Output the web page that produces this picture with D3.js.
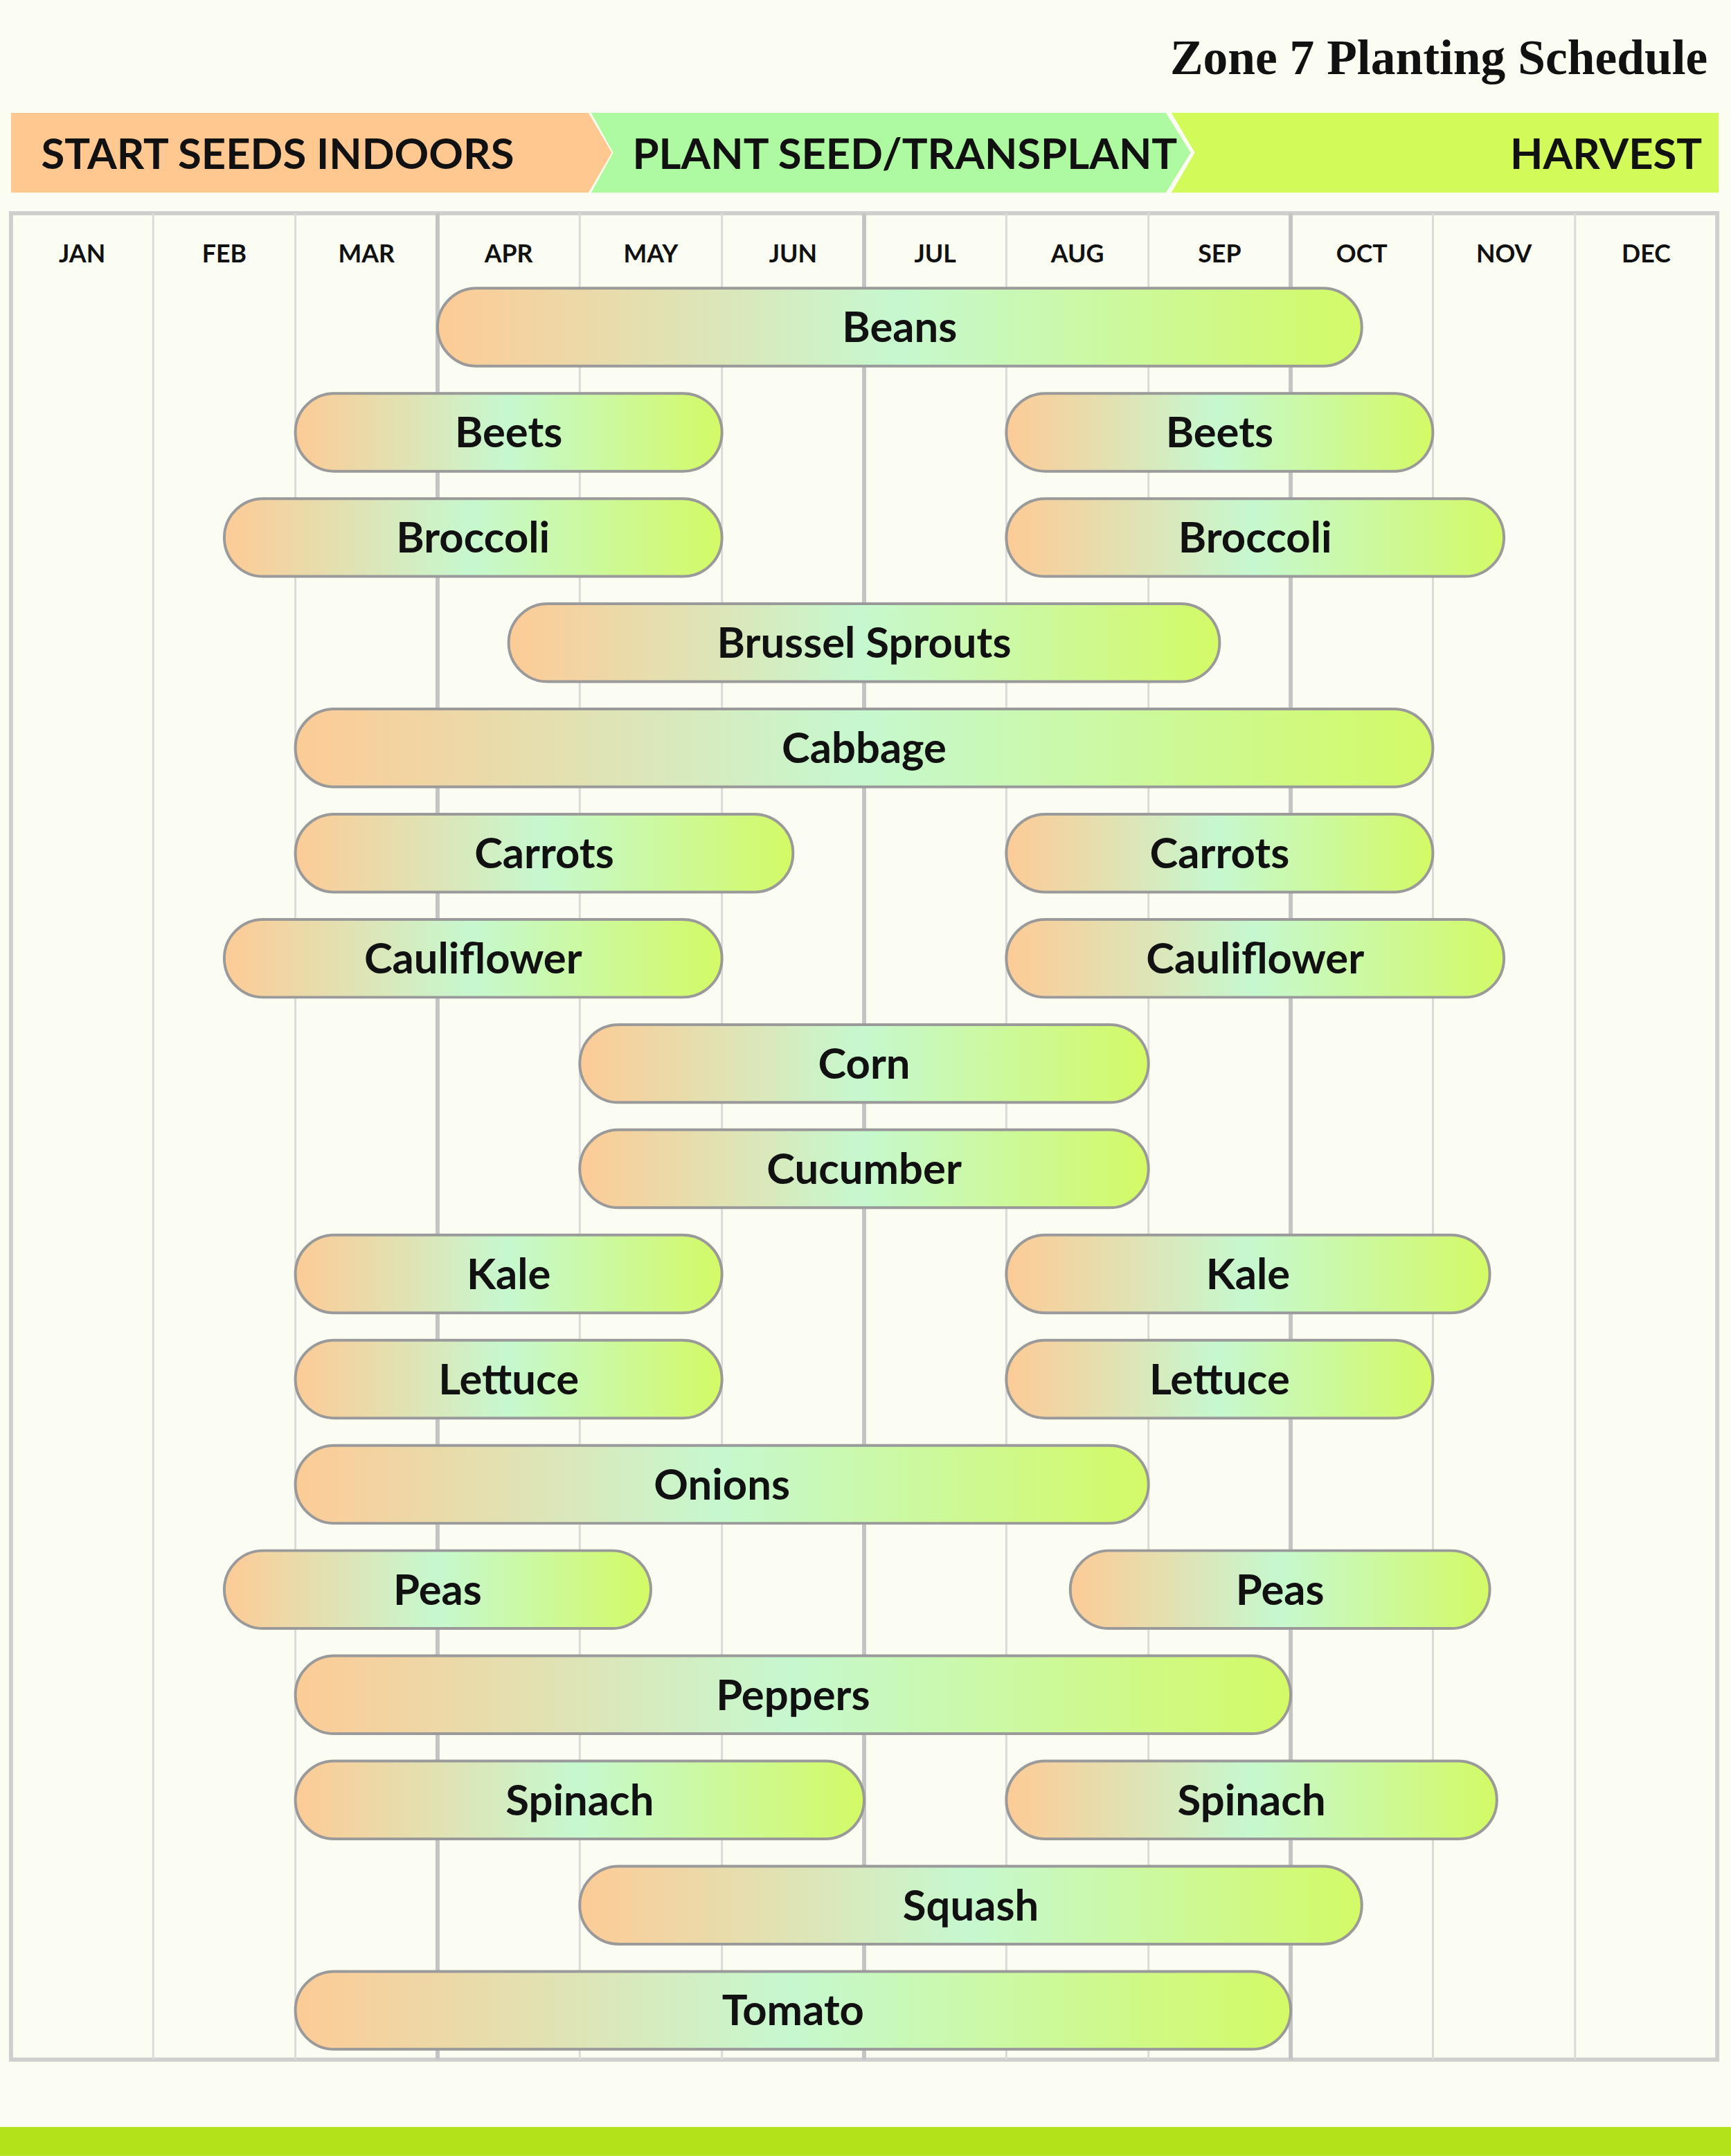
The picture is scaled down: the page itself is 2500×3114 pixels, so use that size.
<!DOCTYPE html>
<html><head><meta charset="utf-8">
<script src="https://cdn.jsdelivr.net/npm/d3@7"></script>
<style>body{margin:0;background:#fcfdf2}</style>
</head><body>
<script>
// months and crops
var months = ["JAN","FEB","MAR","APR","MAY","JUN","JUL","AUG","SEP","OCT","NOV","DEC"];
var crops = ["Beans","Beets","Broccoli","Brussel Sprouts","Cabbage","Carrots","Cauliflower","Corn","Cucumber","Kale","Lettuce","Onions","Peas","Peppers","Spinach","Squash","Tomato"];
// [start, end] in months from Jan 1, one or two periods per crop
var periods = [
  [[3,9.5]],
  [[2,5],[7,10]],
  [[1.5,5],[7,10.5]],
  [[3.5,8.5]],
  [[2,10]],
  [[2,5.5],[7,10]],
  [[1.5,5],[7,10.5]],
  [[4,8]],
  [[4,8]],
  [[2,5],[7,10.4]],
  [[2,5],[7,10]],
  [[2,8]],
  [[1.5,4.5],[7.45,10.4]],
  [[2,9]],
  [[2,6],[7,10.45]],
  [[4,9.5]],
  [[2,9]]
];
var phases = ["START SEEDS INDOORS","PLANT SEED/TRANSPLANT","HARVEST"];

var svg = d3.select("body").append("svg")
  .attr("width",2500).attr("height",3114).attr("viewBox","0 0 1259 1568");
svg.append("rect").attr("width",1259).attr("height",1568).attr("fill","#fcfdf2");

var x = d3.scaleLinear().domain([0,12]).range([8,1249]);
var y = d3.scaleBand().domain(crops).range([208,1492]).paddingInner(0.26).paddingOuter(0.02);

svg.append("text").attr("x",1242).attr("y",54).attr("text-anchor","end")
  .attr("font-family","Liberation Serif").attr("font-weight","bold").attr("font-size",36)
  .attr("fill","#111").text("Zone 7 Planting Schedule");

// phase banners
var banners = [
  {pts:"8,82 428,82 445,111 428,140 8,140", fill:"#ffc890", tx:30, anchor:"start"},
  {pts:"430,82 848,82 866,111 848,140 430,140 446,111", fill:"#adfaa0", tx:460, anchor:"start"},
  {pts:"852,82 1250,82 1250,140 852,140 869,111", fill:"#d2fa58", tx:1238, anchor:"end"}
];
banners.forEach(function(b,i){
  svg.append("polygon").attr("points",b.pts).attr("fill",b.fill);
  svg.append("text").attr("x",b.tx).attr("y",123).attr("text-anchor",b.anchor)
    .attr("font-family","Lato").attr("font-weight","bold").attr("font-size",31)
    .attr("fill","#111").text(phases[i]);
});

// grid
svg.append("rect").attr("x",8).attr("y",155).attr("width",1241).attr("height",1343)
  .attr("fill","none").attr("stroke","#cfcfcf").attr("stroke-width",3);
svg.selectAll(".vl").data(d3.range(1,12)).enter().append("line")
  .attr("x1",d=>x(d)).attr("x2",d=>x(d)).attr("y1",155).attr("y2",1498)
  .attr("stroke",d=>d%3==0?"#c4c4c4":"#dadada").attr("stroke-width",d=>d%3==0?3:1.5);
svg.selectAll(".ml").data(months).enter().append("text")
  .attr("x",(d,i)=>x(i+0.5)).attr("y",191).attr("text-anchor","middle")
  .attr("font-family","Lato").attr("font-weight","bold").attr("font-size",18)
  .attr("fill","#111").text(d=>d);

// gradient
var g = svg.append("defs").append("linearGradient").attr("id","bg");
[["0%","#fdcb96"],["50%","#c6f8cf"],["100%","#d3fa66"]].forEach(function(s){
  g.append("stop").attr("offset",s[0]).attr("stop-color",s[1]);
});

var bars = [];
crops.forEach(function(c,i){ periods[i].forEach(function(p){ bars.push({crop:c,s:p[0],e:p[1]}); }); });
var h = y.bandwidth();
var bg = svg.selectAll(".bar").data(bars).enter().append("g");
bg.append("rect").attr("x",d=>x(d.s)).attr("y",d=>y(d.crop)).attr("width",d=>x(d.e)-x(d.s))
  .attr("height",h).attr("rx",h/2).attr("fill","url(#bg)").attr("stroke","#9a9a9a").attr("stroke-width",2);
bg.append("text").attr("x",d=>(x(d.s)+x(d.e))/2).attr("y",d=>y(d.crop)+h/2+11)
  .attr("text-anchor","middle").attr("font-family","Lato").attr("font-weight","bold")
  .attr("font-size",31).attr("fill","#111").text(d=>d.crop);

svg.append("rect").attr("x",0).attr("y",1547).attr("width",1259).attr("height",21).attr("fill","#b3e21a");
</script>
</body></html>
